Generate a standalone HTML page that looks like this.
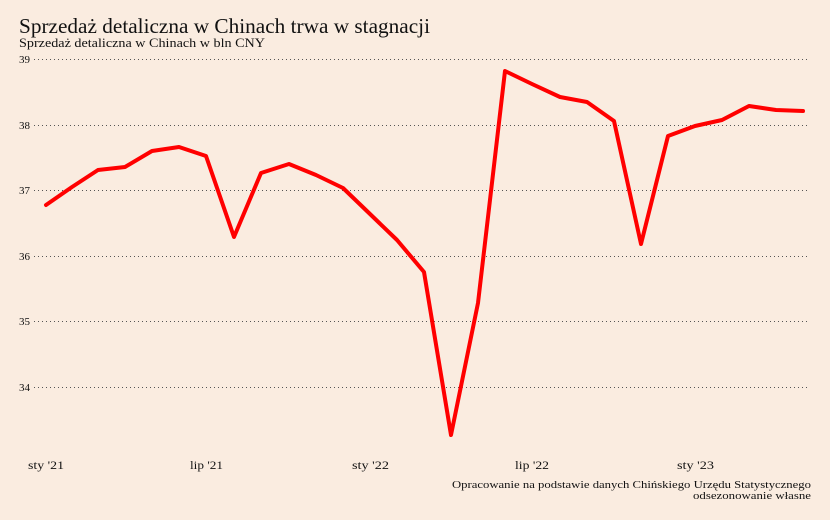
<!DOCTYPE html>
<html><head><meta charset="utf-8"><style>
html,body{margin:0;padding:0;background:#faece0;}
svg{display:block;font-family:"Liberation Serif",serif;}
</style></head><body>
<svg width="830" height="520" viewBox="0 0 830 520">
<rect width="830" height="520" fill="#faece0"/>
<text x="19" y="33" font-size="21" fill="#111" textLength="411" lengthAdjust="spacingAndGlyphs">Sprzedaż detaliczna w Chinach trwa w stagnacji</text>
<text x="19" y="47" font-size="13" fill="#111" textLength="246" lengthAdjust="spacingAndGlyphs">Sprzedaż detaliczna w Chinach w bln CNY</text>
<g stroke="#555" stroke-width="1" stroke-dasharray="1,3">
<line x1="34" y1="59.5" x2="808" y2="59.5"/>
<line x1="34" y1="125.5" x2="808" y2="125.5"/>
<line x1="34" y1="190.5" x2="808" y2="190.5"/>
<line x1="34" y1="256.5" x2="808" y2="256.5"/>
<line x1="34" y1="321.5" x2="808" y2="321.5"/>
<line x1="34" y1="387.5" x2="808" y2="387.5"/>
</g>
<g font-size="11" fill="#111">
<text x="19" y="63">39</text>
<text x="19" y="129">38</text>
<text x="19" y="194">37</text>
<text x="19" y="260">36</text>
<text x="19" y="325">35</text>
<text x="19" y="391">34</text>
</g>
<g font-size="12" fill="#111">
<text x="28" y="469" textLength="36" lengthAdjust="spacingAndGlyphs">sty '21</text>
<text x="190" y="469" textLength="33" lengthAdjust="spacingAndGlyphs">lip '21</text>
<text x="352" y="469" textLength="37" lengthAdjust="spacingAndGlyphs">sty '22</text>
<text x="515" y="469" textLength="34" lengthAdjust="spacingAndGlyphs">lip '22</text>
<text x="677" y="469" textLength="37" lengthAdjust="spacingAndGlyphs">sty '23</text>
</g>
<polyline fill="none" stroke="#ff0000" stroke-width="4" stroke-linejoin="round" stroke-linecap="round"
points="46,205 72,187 98,170 125,167 152,151 179,147 206,156 234,237 261,173 289,164 316,175 343,188 370,214 397,240 424,272 451,435 478,303 505,71 532,84 560,97 587,102 614,121 641,244 668,136 695,126 722,120 749,106 776,110 803,111"/>
<g font-size="11" fill="#111">
<text x="452" y="488" textLength="359" lengthAdjust="spacingAndGlyphs">Opracowanie na podstawie danych Chińskiego Urzędu Statystycznego</text>
<text x="693" y="499" textLength="118" lengthAdjust="spacingAndGlyphs">odsezonowanie własne</text>
</g>
</svg>
</body></html>
